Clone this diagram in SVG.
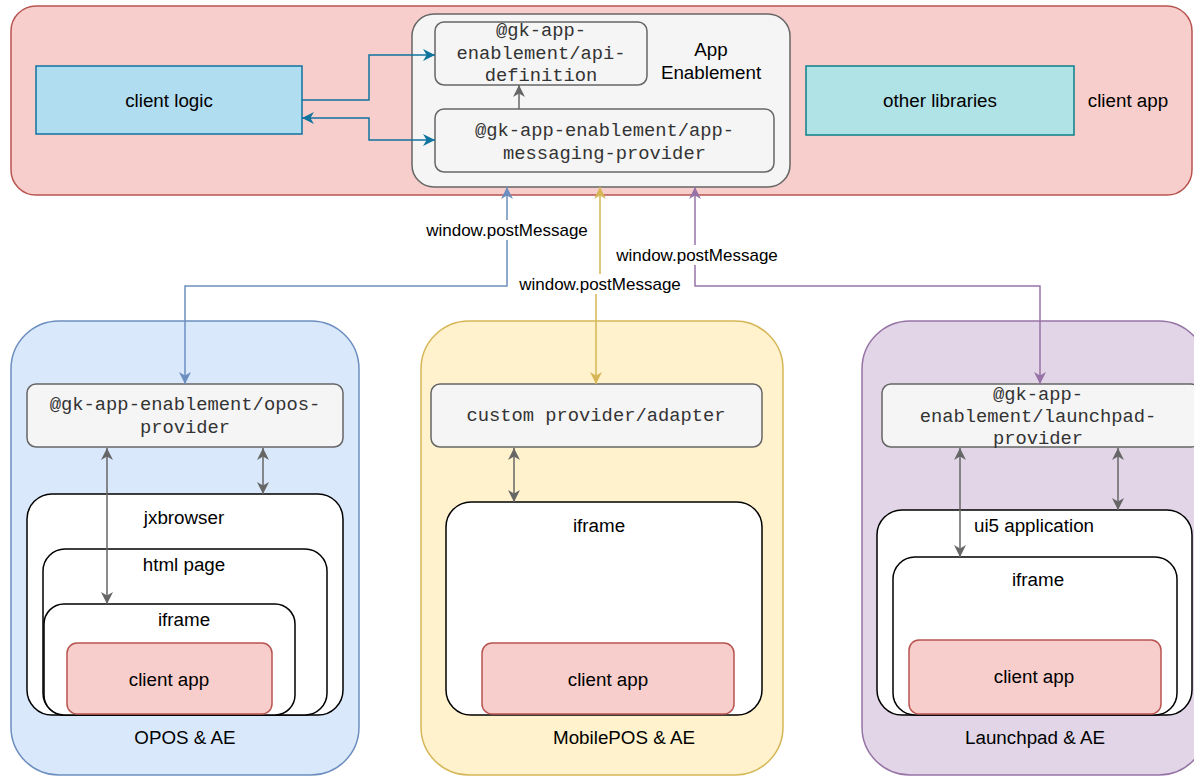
<svg xmlns="http://www.w3.org/2000/svg" width="1194" height="776" viewBox="0 0 1194 776">
<defs>
<style>
.sans{font-family:"Liberation Sans",Helvetica,Arial,sans-serif;font-size:18.8px;fill:#000;text-anchor:middle}
.mono{font-family:"Liberation Mono","Courier New",monospace;font-size:18.8px;fill:#333;text-anchor:middle}
.lbl{font-family:"Liberation Sans",Helvetica,Arial,sans-serif;font-size:17px;fill:#000;text-anchor:middle}
.gbox{fill:#f5f5f5;stroke:#666;stroke-width:1.5}
.wbox{fill:#fff;stroke:#000;stroke-width:1.5}
.cbox{fill:#f8cecc;stroke:#b85450;stroke-width:1.5}
.ln{fill:none;stroke-width:1.5}
</style>
<marker id="mTeal" viewBox="0 0 10 10" refX="10" refY="5" markerWidth="12" markerHeight="12" markerUnits="userSpaceOnUse" orient="auto-start-reverse"><path d="M0,0 L10,5 L0,10 L3,5 Z" fill="#10739e"/></marker>
<marker id="mGray" viewBox="0 0 10 10" refX="10" refY="5" markerWidth="12" markerHeight="12" markerUnits="userSpaceOnUse" orient="auto-start-reverse"><path d="M0,0 L10,5 L0,10 L3,5 Z" fill="#666"/></marker>
<marker id="mBlue" viewBox="0 0 10 10" refX="10" refY="5" markerWidth="12" markerHeight="12" markerUnits="userSpaceOnUse" orient="auto-start-reverse"><path d="M0,0 L10,5 L0,10 L3,5 Z" fill="#6c8ebf"/></marker>
<marker id="mYel" viewBox="0 0 10 10" refX="10" refY="5" markerWidth="12" markerHeight="12" markerUnits="userSpaceOnUse" orient="auto-start-reverse"><path d="M0,0 L10,5 L0,10 L3,5 Z" fill="#d6b656"/></marker>
<marker id="mPur" viewBox="0 0 10 10" refX="10" refY="5" markerWidth="12" markerHeight="12" markerUnits="userSpaceOnUse" orient="auto-start-reverse"><path d="M0,0 L10,5 L0,10 L3,5 Z" fill="#9673a6"/></marker>
</defs>
<rect width="1194" height="776" fill="#fff"/>

<g id="client-app-top">
<rect x="11" y="6" width="1181" height="189" rx="25" fill="#f8cecc" stroke="#b85450" stroke-width="1.5"/>
<text class="sans" x="1128" y="106.5">client app</text>
</g>
<g id="client-logic">
<rect x="36" y="66" width="266" height="68" fill="#b1ddf0" stroke="#10739e" stroke-width="1.5"/>
<text class="sans" x="169" y="106.5">client logic</text>
</g>
<g id="other-libraries">
<rect x="806" y="66" width="268" height="69" fill="#b0e3e6" stroke="#0e8088" stroke-width="1.5"/>
<text class="sans" x="940" y="106.5">other libraries</text>
</g>
<g id="app-enablement">
<rect x="412" y="14" width="378" height="173" rx="22" class="gbox"/>
<text class="sans" x="711" y="56">App</text>
<text class="sans" x="711" y="79">Enablement</text>
</g>
<g id="api-definition">
<rect x="435" y="22" width="212" height="63" rx="9" class="gbox"/>
<text class="mono" x="541" y="36">@gk-app-</text>
<text class="mono" x="541" y="58.5">enablement/api-</text>
<text class="mono" x="541" y="81">definition</text>
</g>
<g id="messaging-provider">
<rect x="435" y="109" width="339" height="63" rx="9" class="gbox"/>
<text class="mono" x="604.5" y="135.5">@gk-app-enablement/app-</text>
<text class="mono" x="604.5" y="158.5">messaging-provider</text>
</g>

<g id="opos">
<rect x="11" y="321" width="348" height="454" rx="48" fill="#dae8fc" stroke="#6c8ebf" stroke-width="1.5"/>
<text class="sans" x="185" y="743.5">OPOS &amp; AE</text>
</g>
<g id="opos-provider">
<rect x="27" y="384" width="316" height="63" rx="9" class="gbox"/>
<text class="mono" x="185" y="410">@gk-app-enablement/opos-</text>
<text class="mono" x="185" y="433">provider</text>
</g>
<g id="jxbrowser">
<rect x="27" y="494" width="316" height="221" rx="25" class="wbox"/>
<text class="sans" x="184" y="523.5">jxbrowser</text>
</g>
<g id="html-page">
<rect x="43" y="549" width="284" height="166" rx="22" class="wbox"/>
<text class="sans" x="184" y="570.5">html page</text>
</g>
<g id="opos-iframe">
<rect x="44" y="604" width="251" height="111" rx="20" class="wbox"/>
<text class="sans" x="184" y="625.5">iframe</text>
</g>
<g id="opos-client-app">
<rect x="67" y="643" width="205" height="71" rx="10" class="cbox"/>
<text class="sans" x="169" y="685.5">client app</text>
</g>

<g id="mobilepos">
<rect x="421" y="321" width="362" height="454" rx="48" fill="#fff2cc" stroke="#d6b656" stroke-width="1.5"/>
<text class="sans" x="624" y="743.5">MobilePOS &amp; AE</text>
</g>
<g id="custom-provider">
<rect x="431" y="384" width="331" height="63" rx="9" class="gbox"/>
<text class="mono" x="596" y="421">custom provider/adapter</text>
</g>
<g id="mobilepos-iframe">
<rect x="446" y="502" width="316" height="213" rx="25" class="wbox"/>
<text class="sans" x="599" y="531.5">iframe</text>
</g>
<g id="mobilepos-client-app">
<rect x="482" y="643" width="252" height="71" rx="10" class="cbox"/>
<text class="sans" x="608" y="685.5">client app</text>
</g>

<g id="launchpad">
<rect x="862" y="321" width="345" height="454" rx="48" fill="#e1d5e7" stroke="#9673a6" stroke-width="1.5"/>
<text class="sans" x="1035" y="743.5">Launchpad &amp; AE</text>
</g>
<g id="launchpad-provider">
<rect x="882" y="384" width="318" height="63" rx="9" class="gbox"/>
<text class="mono" x="1038" y="400">@gk-app-</text>
<text class="mono" x="1038" y="422">enablement/launchpad-</text>
<text class="mono" x="1038" y="444">provider</text>
</g>
<g id="ui5-application">
<rect x="877" y="510" width="315" height="205" rx="25" class="wbox"/>
<text class="sans" x="1034" y="531.5">ui5 application</text>
</g>
<g id="launchpad-iframe">
<rect x="893" y="557" width="284" height="158" rx="22" class="wbox"/>
<text class="sans" x="1038" y="585.5">iframe</text>
</g>
<g id="launchpad-client-app">
<rect x="909" y="640" width="252" height="74" rx="10" class="cbox"/>
<text class="sans" x="1034" y="682.5">client app</text>
</g>

<g id="connectors">
<path class="ln" d="M302,100 H369 V55 H435" stroke="#10739e" marker-end="url(#mTeal)"/>
<path class="ln" d="M302,118 H369 V140 H435" stroke="#10739e" marker-start="url(#mTeal)" marker-end="url(#mTeal)"/>
<path class="ln" d="M519,109 V85" stroke="#666" marker-end="url(#mGray)"/>

<path class="ln" d="M185,384 V286 H507 V187" stroke="#6c8ebf" marker-start="url(#mBlue)" marker-end="url(#mBlue)"/>
<path class="ln" d="M596,384 V285 H600 V187" stroke="#d6b656" marker-start="url(#mYel)" marker-end="url(#mYel)"/>
<path class="ln" d="M1040,384 V286 H695 V187" stroke="#9673a6" marker-start="url(#mPur)" marker-end="url(#mPur)"/>

<rect x="425" y="220" width="164" height="20" fill="#fff"/>
<text class="lbl" x="507" y="236">window.postMessage</text>
<rect x="518" y="274" width="164" height="20" fill="#fff"/>
<text class="lbl" x="600" y="290">window.postMessage</text>
<rect x="615" y="245" width="164" height="20" fill="#fff"/>
<text class="lbl" x="697" y="261">window.postMessage</text>

<path class="ln" d="M107,448 V604" stroke="#666" marker-start="url(#mGray)" marker-end="url(#mGray)"/>
<path class="ln" d="M263,448 V494" stroke="#666" marker-start="url(#mGray)" marker-end="url(#mGray)"/>
<path class="ln" d="M514,448 V502" stroke="#666" marker-start="url(#mGray)" marker-end="url(#mGray)"/>
<path class="ln" d="M960,448 V557" stroke="#666" marker-start="url(#mGray)" marker-end="url(#mGray)"/>
<path class="ln" d="M1118,448 V510" stroke="#666" marker-start="url(#mGray)" marker-end="url(#mGray)"/>
</g>
</svg>
